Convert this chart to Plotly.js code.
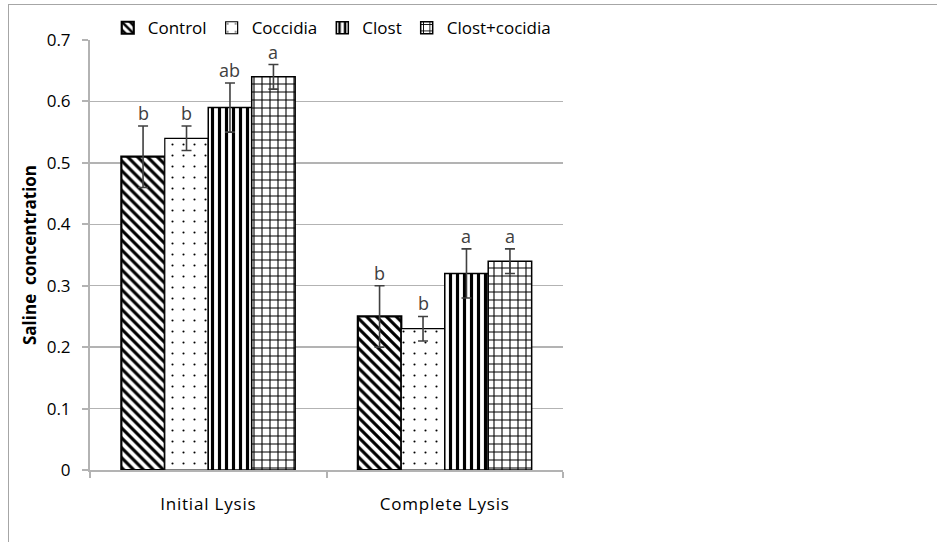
<!DOCTYPE html>
<html><head><meta charset="utf-8">
<script src="https://cdn.plot.ly/plotly-3.0.1.min.js"></script>
<style>
body{margin:0;padding:0;background:#fff;}
#wrap{position:relative;width:937px;height:542px;}
#chart{position:absolute;left:0;top:0;width:937px;height:542px;}
.fl{position:absolute;background:#a6a6a6;}
#chart .xtick text{letter-spacing:0.8px;}
</style></head>
<body>
<div id="wrap">
<div id="chart"></div>
<div class="fl" style="left:8px;top:4px;width:929px;height:1px;"></div>
<div class="fl" style="left:8px;top:4px;width:1px;height:538px;"></div>
</div>
<script>
const categories = ["Initial Lysis", "Complete Lysis"];
const seriesNames = ["Control", "Coccidia", "Clost", "Clost+cocidia"];
const control = [0.51, 0.25];
const coccidia = [0.54, 0.23];
const clost = [0.59, 0.32];
const clostCoc = [0.64, 0.34];
const errControl = [0.05, 0.05];
const errCoccidia = [0.02, 0.02];
const errClost = [0.04, 0.04];
const errClostCoc = [0.02, 0.02];
const lettersControl = ["b", "b"];
const lettersCoccidia = ["b", "b"];
const lettersClost = ["ab", "a"];
const lettersClostCoc = ["a", "a"];
const yTicks = [0, 0.1, 0.2, 0.3, 0.4, 0.5, 0.6, 0.7];

const values = [control, coccidia, clost, clostCoc];
const errs = [errControl, errCoccidia, errClost, errClostCoc];
const letters = [lettersControl, lettersCoccidia, lettersClost, lettersClostCoc];
const patterns = [
  {shape: "\\", size: 7, solidity: 0.45},
  {shape: ".", size: 11, solidity: 0.03},
  {shape: "|", size: 7, solidity: 0.45},
  {shape: "+", size: 8, solidity: 0.25}
];
const lineW = [2.2, 1.2, 1.5, 1.5];

const font = "'Open Sans', Lato, sans-serif";
const traces = values.map((v, i) => ({
  type: "bar",
  name: seriesNames[i],
  x: categories,
  y: v,
  marker: {
    color: "#ffffff",
    line: {color: "#000000", width: lineW[i]},
    pattern: Object.assign({fgcolor: "#000000", bgcolor: "#ffffff", fillmode: "replace"}, patterns[i])
  },
  error_y: {type: "data", array: errs[i], visible: true, color: "#404040", thickness: 1.6, width: 5},
  hoverinfo: "skip"
}));

const mL = 90, mR = 374, mT = 40, mB = 72;
const plotW = 937 - mL - mR;
const bargap = 0.265;
const catW = plotW / categories.length;
const barW = catW * (1 - bargap) / seriesNames.length;

const annotations = [];
values.forEach((v, i) => {
  v.forEach((val, j) => {
    annotations.push({
      x: categories[j], y: val + errs[i][j], xref: "x", yref: "y",
      text: letters[i][j], showarrow: false, yanchor: "bottom",
      xshift: (i - (seriesNames.length - 1) / 2) * barW, yshift: -1,
      font: {family: font, size: 18, color: "#404040"}
    });
  });
});

const layout = {
  width: 937, height: 542,
  margin: {l: mL, r: mR, t: mT, b: mB, autoexpand: false},
  paper_bgcolor: "rgba(0,0,0,0)", plot_bgcolor: "#ffffff",
  barmode: "group", bargap: bargap, bargroupgap: 0,
  showlegend: true,
  legend: {orientation: "h", xref: "container", yref: "container", x: 0.115, xanchor: "left", y: 0.948, yanchor: "middle",
    font: {family: font, size: 17, color: "#000000"}, itemwidth: 30, tracegroupgap: 0,
    bgcolor: "rgba(0,0,0,0)"},
  xaxis: {
    type: "category", showline: true, linecolor: "#b3b3b3", linewidth: 2,
    ticks: "outside", tickson: "boundaries", ticklen: 6, tickcolor: "#b3b3b3", tickwidth: 2,
    ticklabelstandoff: 18,
    tickfont: {family: font, size: 17, color: "#000000"}, showgrid: false, zeroline: false
  },
  yaxis: {
    range: [0, 0.7], tickvals: yTicks, ticktext: yTicks.map(t => String(t)),
    showline: true, linecolor: "#b3b3b3", linewidth: 2,
    ticks: "outside", ticklen: 6, tickcolor: "#b3b3b3", tickwidth: 2,
    ticklabelstandoff: 8,
    showgrid: true, gridcolor: "#b3b3b3", gridwidth: 1.5, zeroline: false,
    tickfont: {family: font, size: 17, color: "#000000"},
    title: {text: "<b>Saline  concentration</b>", font: {family: font, size: 17, color: "#000000"}, standoff: 6}
  },
  annotations: annotations,
  font: {family: font}
};

Plotly.newPlot("chart", traces, layout, {staticPlot: true, displayModeBar: false});
</script>
</body></html>
